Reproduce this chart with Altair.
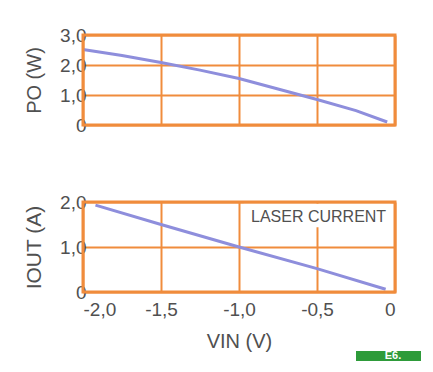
import altair as alt
import pandas as pd

# ---- data ----
v_power = [-2.0, -1.75, -1.5, -1.25, -1.0, -0.75, -0.5, -0.25, -0.05]
p_out = [2.52, 2.32, 2.08, 1.83, 1.55, 1.2, 0.85, 0.48, 0.1]

v_current = [-1.92, -1.5, -1.0, -0.5, -0.06]
i_out = [1.93, 1.5, 1.0, 0.52, 0.06]

x_ticks = [-2.0, -1.5, -1.0, -0.5, 0.0]
x_tick_labels = ["-2,0", "-1,5", "-1,0", "-0,5", "0"]
p_ticks = [0, 1, 2, 3]
p_tick_labels = ["0", "1,0", "2,0", "3,0"]
i_ticks = [0, 1, 2]
i_tick_labels = ["0", "1,0", "2,0"]

annotation_text = ["LASER CURRENT"]
annotation_v = [-0.49]
annotation_i = [1.67]
box_v = [-0.97]
box_v2 = [-0.03]
box_i = [1.44]
box_i2 = [1.96]

badge_text = ["E6."]

ORANGE = "#F08C3C"
LINE = "#8E8EDC"
TEXT = "#505050"
FONT = "Liberation Sans"
W, H = 312, 90


def label_expr(ticks, labels):
    expr = "''"
    for t, l in reversed(list(zip(ticks, labels))):
        expr = f"abs(datum.value - ({t})) < 1e-6 ? '{l}' : ({expr})"
    return expr


top_df = pd.DataFrame({"v": v_power, "p": p_out})
bot_df = pd.DataFrame({"v": v_current, "i": i_out})
ann_df = pd.DataFrame({"t": annotation_text, "v": annotation_v, "i": annotation_i,
                       "bv": box_v, "bv2": box_v2, "bi": box_i, "bi2": box_i2})
badge_df = pd.DataFrame({"t": badge_text})


def frame(df):
    return alt.Chart(df).mark_rect(fill=None, stroke=ORANGE, strokeWidth=3).encode(
        x=alt.value(0), x2=alt.value(W), y=alt.value(0), y2=alt.value(H))


x_top = alt.X("v:Q", scale=alt.Scale(domain=[-2, 0], nice=False),
              axis=alt.Axis(values=x_ticks, labels=False, title=None))
y_top = alt.Y("p:Q", scale=alt.Scale(domain=[0, 3], nice=False),
              axis=alt.Axis(values=p_ticks, labelExpr=label_expr(p_ticks, p_tick_labels),
                            title="PO (W)", titlePadding=15, titleFontSize=20))
top_line = alt.Chart(top_df).mark_line(color=LINE, strokeWidth=3).encode(x=x_top, y=y_top)
top = alt.layer(top_line, frame(badge_df)).properties(width=W, height=H)

x_bot = alt.X("v:Q", scale=alt.Scale(domain=[-2, 0], nice=False),
              axis=alt.Axis(values=x_ticks, labelExpr=label_expr(x_ticks, x_tick_labels),
                            title="VIN (V)", labelPadding=8, titlePadding=12))
y_bot = alt.Y("i:Q", scale=alt.Scale(domain=[0, 2], nice=False),
              axis=alt.Axis(values=i_ticks, labelExpr=label_expr(i_ticks, i_tick_labels),
                            title="IOUT (A)", titlePadding=15, titleFontSize=21))

bot_line = alt.Chart(bot_df).mark_line(color=LINE, strokeWidth=3).encode(x=x_bot, y=y_bot)
box = alt.Chart(ann_df).mark_rect(color="white").encode(
    x="bv:Q", x2="bv2", y="bi:Q", y2="bi2")
txt = alt.Chart(ann_df).mark_text(font=FONT, fontSize=16, color=TEXT).encode(
    x="v:Q", y="i:Q", text="t:N")
badge_rect = alt.Chart(badge_df).mark_rect(color="#2E9B3A").encode(
    x=alt.value(273), x2=alt.value(338), y=alt.value(149), y2=alt.value(159))
badge_txt = alt.Chart(badge_df).mark_text(
    font=FONT, fontSize=11, fontWeight="bold", color="white", baseline="middle").encode(
    x=alt.value(310), y=alt.value(154), text="t:N")
bottom = alt.layer(bot_line, box, txt, frame(badge_df), badge_rect, badge_txt).properties(
    width=W, height=H)

chart = alt.vconcat(top, bottom, spacing=58).properties(
    padding={"left": 15, "top": 18, "right": 0, "bottom": 0},
    background="white",
).configure_view(
    strokeWidth=0
).configure_axis(
    domain=False, ticks=False, tickSize=0, grid=True, gridColor=ORANGE, gridWidth=2,
    gridOpacity=1, labelFont=FONT, labelFontSize=19, labelColor=TEXT, labelPadding=-3,
    titleFont=FONT, titleFontSize=20, titleFontWeight="normal", titleColor=TEXT,
)

chart.save("out.html", embed_options={"renderer": "svg", "actions": False})
